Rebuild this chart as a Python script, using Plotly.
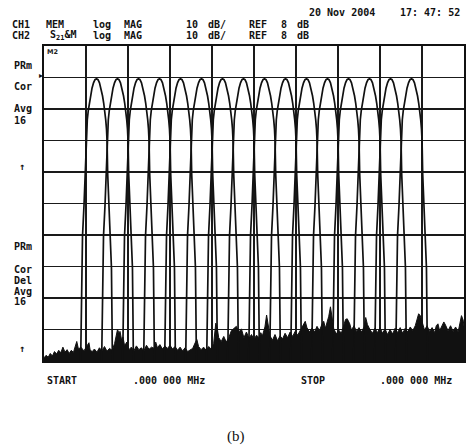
import plotly.graph_objects as go

# ---------------- data ----------------
# filter centre positions (x in display units, 0..1000 across the 10 divisions)
filter_centers = [125, 175, 225, 275, 325, 375, 425, 475,
                  525, 575, 625, 675, 725, 775, 825, 875]
# peak level of every filter (dB)
filter_peaks = [7.6, 7.6, 7.6, 7.6, 7.6, 7.6, 7.6, 7.6,
                7.6, 7.6, 7.6, 7.6, 7.6, 7.6, 7.6, 7.6]
# measured shape of one filter: offset from centre (x units) and level relative to peak (dB)
profile_offset = [-38.0, -36.8, -35.6, -33.3, -29.7, -26.6, -25.2, -23.8, -21.9, -19.5,
                  -17.1, -14.3, -10.7, -7.1, -3.6, 0.0, 3.6, 7.1, 10.7, 14.3, 17.1,
                  19.5, 21.9, 23.8, 25.2, 26.6, 29.7, 33.3, 35.6, 36.8, 38.0]
profile_db = [-92, -75, -60, -50, -40, -30, -20, -16, -13, -10,
              -7.7, -5.4, -3.0, -1.3, -0.3, 0.0, -0.3, -1.3, -3.0, -5.4, -7.7,
              -10, -13, -16, -20, -30, -40, -50, -60, -75, -92]

# noise floor trace (x units, dB)
noise_x = [0, 5, 10, 15, 20, 25, 30, 35, 40, 45, 50, 55, 60, 65, 70, 75, 78, 82, 88, 95,
           100, 107, 110, 115, 120, 126, 132, 138, 144, 150, 156, 162, 168, 172, 175, 178,
           181, 185, 188, 192, 197, 202, 208, 214, 220, 226, 232, 238, 244, 250, 256, 262,
           266, 270, 276, 282, 288, 294, 300, 306, 312, 318, 324, 330, 336, 342, 348, 354,
           360, 364, 368, 374, 380, 386, 392, 398, 404, 409, 412, 416, 422, 428, 434, 440,
           446, 452, 458, 464, 470, 476, 482, 488, 494, 500, 506, 512, 516, 520, 526, 530,
           534, 538, 544, 550, 556, 562, 568, 574, 580, 586, 592, 598, 604, 610, 616, 622,
           626, 632, 638, 644, 650, 656, 662, 666, 670, 674, 678, 682, 686, 690, 696, 702,
           708, 714, 718, 722, 728, 732, 738, 744, 750, 756, 762, 766, 770, 776, 782, 788,
           794, 800, 806, 812, 818, 824, 830, 836, 842, 848, 854, 860, 866, 872, 878, 884,
           888, 892, 896, 900, 906, 912, 918, 924, 930, 934, 938, 942, 948, 952, 956, 962,
           968, 974, 980, 986, 990, 994, 998, 1000]
noise_db = [-81.0, -80.2, -80.8, -79.6, -80.4, -79.0, -79.8, -78.6, -79.4, -77.6, -79.2, -78.4,
            -79.6, -78.6, -79.3, -77.0, -75.8, -78.2, -77.6, -78.8, -77.8, -76.2, -78.6, -79.0,
            -78.2, -79.2, -77.8, -78.8, -77.4, -78.9, -78.0, -78.6, -76.5, -73.5, -72.0, -73.0,
            -72.6, -75.5, -74.4, -77.2, -76.0, -78.4, -77.6, -78.8, -77.2, -78.4, -77.8, -78.8,
            -77.0, -78.3, -77.6, -78.0, -76.0, -77.8, -76.8, -78.2, -77.2, -78.0, -77.0, -78.2,
            -77.4, -78.6, -77.6, -78.8, -77.8, -79.0, -78.6, -78.0, -76.2, -75.2, -77.4, -78.4,
            -77.6, -78.6, -77.4, -78.2, -76.4, -70.0, -71.2, -74.6, -75.8, -74.2, -76.0, -74.6,
            -72.4, -71.6, -71.0, -72.8, -71.8, -74.6, -72.8, -74.8, -73.6, -75.2, -73.8, -74.6,
            -73.0, -74.0, -71.2, -67.4, -70.6, -74.0, -75.4, -73.6, -75.6, -74.0, -75.0, -73.2,
            -74.6, -72.8, -74.2, -72.6, -73.8, -72.4, -70.8, -69.4, -71.4, -72.8, -71.6, -72.8,
            -71.0, -72.4, -70.2, -69.4, -71.6, -69.8, -67.8, -64.8, -68.0, -71.8, -73.4, -72.2,
            -73.2, -70.6, -68.8, -68.6, -70.2, -72.2, -70.8, -72.6, -71.4, -72.8, -71.2, -68.2,
            -70.4, -72.0, -73.2, -71.6, -73.0, -71.4, -73.2, -71.8, -73.6, -72.0, -73.4, -71.6,
            -73.0, -71.4, -73.2, -71.6, -72.8, -71.2, -72.4, -70.8, -69.2, -67.0, -67.6, -69.6,
            -72.2, -70.8, -72.6, -71.4, -73.0, -70.8, -70.2, -72.4, -71.0, -69.6, -70.6, -72.4,
            -70.8, -72.6, -71.2, -72.8, -70.2, -67.6, -69.0, -71.0]

# axis definition: 10 dB/div, REF 8 dB at first division below top
x_range = [0, 1000]
y_range = [-82, 18]
floor_db = -82

# text content
header_date = ["20 Nov 2004", "17: 47: 52"]
header_ch1 = ["CH1", "MEM", "log", "MAG", "10", "dB/", "REF", "8", "dB"]
header_ch2 = ["CH2", "S<sub>21</sub>&amp;M", "log", "MAG", "10", "dB/", "REF", "8", "dB"]
left_labels = ["PRm", "Cor", "Avg", "16", "↑", "PRm", "Cor", "Del", "Avg", "16", "↑"]
bottom_labels = ["START", ".000 000 MHz", "STOP", ".000 000 MHz"]
caption = "(b)"

# ---------------- figure ----------------
W, H = 468, 446
ML, MR, MT, MB = 44, 2, 46, 85
PW, PH = W - ML - MR, H - MT - MB

fig = go.Figure()

# noise floor (filled to the bottom)
fig.add_trace(go.Scatter(x=noise_x, y=[floor_db] * len(noise_x), mode="lines",
                         line=dict(width=0, color="black"), hoverinfo="skip", showlegend=False))
fig.add_trace(go.Scatter(x=noise_x, y=noise_db, mode="lines", fill="tonexty",
                         fillcolor="#111111", line=dict(width=1, color="#111111"),
                         showlegend=False))

for c, pk in zip(filter_centers, filter_peaks):
    fig.add_trace(go.Scatter(x=[c + o for o in profile_offset],
                             y=[pk + d for d in profile_db], mode="lines",
                             line=dict(width=1.7, color="#111111"), showlegend=False))

axis_common = dict(showgrid=True, gridcolor="#1a1a1a", gridwidth=1.6, showticklabels=False,
                   ticks="", zeroline=False, showline=True, linecolor="#111111",
                   linewidth=2, mirror=True, fixedrange=True)
fig.update_xaxes(range=x_range, tick0=0, dtick=100, **axis_common)
fig.update_yaxes(range=y_range, tick0=-82, dtick=10, **axis_common)


def P(px, py):
    # picture pixel -> paper coordinates
    return (px - ML) / PW, (H - MB - py) / PH


mono = dict(family="DejaVu Sans Mono", size=10, color="#111111")
ann = []


def add_text(t, px, py, font=mono, anchor="center"):
    xp, yp = P(px, py)
    ann.append(dict(text="<b>%s</b>" % t if font is mono else t, x=xp, y=yp, xref="paper",
                    yref="paper", xanchor=anchor, yanchor="middle", showarrow=False,
                    font=font))


for t, cx in zip(header_date, [343, 432]):
    add_text(t, cx, 13)
for t, cx in zip(header_ch1, [21, 55, 102, 133.5, 192.5, 217.5, 259, 285, 304.5]):
    add_text(t, cx, 24.5)
for t, cx in zip(header_ch2, [21, 63.5, 102, 133.5, 192.5, 217.5, 259, 285, 304.5]):
    add_text(t, cx, 35.5)
for t, (cx, cy) in zip(left_labels, [(22.5, 65.7), (22.5, 86), (22.5, 109), (19.5, 120.7),
                                     (21.7, 166.7), (22.5, 246), (22.5, 269), (22.5, 280),
                                     (22.5, 291), (19.5, 301.7), (21.7, 348)]):
    add_text(t, cx, cy)
for t, cx in zip(bottom_labels, [62, 170, 314, 418]):
    add_text(t, cx, 380)
# reference-position marker and small marker box
add_text("▸", 41, 75.5, font=dict(family="DejaVu Sans", size=8, color="#111111"))
add_text("<b>M2</b>", 53, 52, font=dict(family="DejaVu Sans", size=6.5, color="#222222"))
add_text(caption, 237, 436, font=dict(family="Liberation Serif", size=15, color="#111111"))

fig.update_layout(width=W, height=H, margin=dict(l=ML, r=MR, t=MT, b=MB),
                  paper_bgcolor="white", plot_bgcolor="white", annotations=ann,
                  showlegend=False)

# remove the default page margin so the figure sits at the window's top-left corner
fig.write_html("out.html", config={"displayModeBar": False, "staticPlot": True},
               post_script="document.body.style.margin='0';"
                           "document.documentElement.style.overflow='hidden';")
